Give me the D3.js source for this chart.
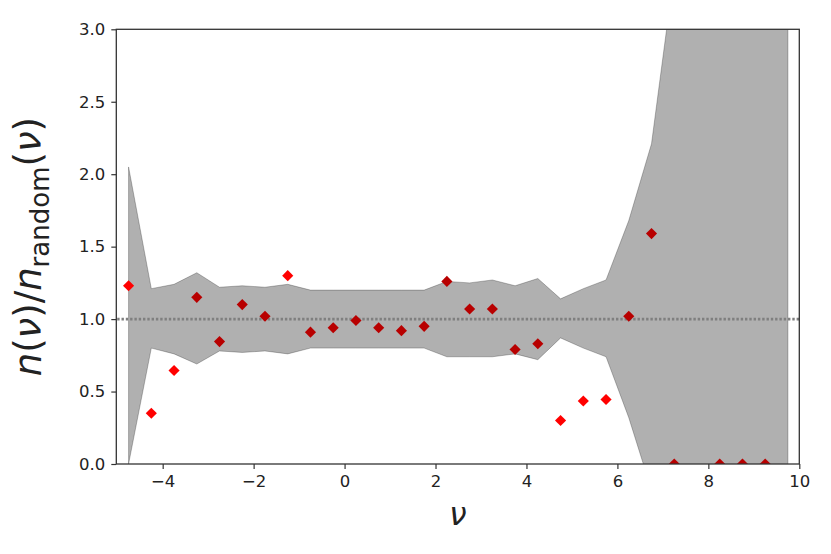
<!DOCTYPE html>
<html>
<head>
<meta charset="utf-8">
<script src="https://cdn.jsdelivr.net/npm/d3@7"></script>
<style>
  body { margin: 0; background: #fff; }
  text { font-family: "DejaVu Sans", sans-serif; fill: #222; }
</style>
</head>
<body>
<script>
// bin centres (nu), ratio values and the grey band around 1
var nuBins = [-4.75, -4.25, -3.75, -3.25, -2.75, -2.25, -1.75, -1.25, -0.75, -0.25,
              0.25, 0.75, 1.25, 1.75, 2.25, 2.75, 3.25, 3.75, 4.25, 4.75,
              5.25, 5.75, 6.25, 6.75, 7.25, 7.75, 8.25, 8.75, 9.25, 9.75];

var ratio = [1.23, 0.35, 0.645, 1.15, 0.845, 1.10, 1.02, 1.30, 0.91, 0.94,
             0.99, 0.94, 0.92, 0.95, 1.26, 1.07, 1.07, 0.79, 0.83, 0.30,
             0.435, 0.445, 1.02, 1.59, 0, null, 0, 0, 0, null];

// true = outside the expected band (bright red)
var outlier = [true, true, true, false, false, false, false, true, false, false,
               false, false, false, false, false, false, false, false, false, true,
               true, true, false, false, false, false, false, false, false, false];

var bandUpper = [2.05, 1.21, 1.24, 1.32, 1.22, 1.23, 1.22, 1.24, 1.20, 1.20,
                 1.20, 1.20, 1.20, 1.20, 1.26, 1.25, 1.27, 1.23, 1.28, 1.14,
                 1.21, 1.27, 1.68, 2.21, 3.4, 4.4, 5.0, 5.6, 6.2, 6.8];

var bandLower = [0, 0.80, 0.76, 0.69, 0.78, 0.77, 0.78, 0.76, 0.80, 0.80,
                 0.80, 0.80, 0.80, 0.80, 0.74, 0.74, 0.74, 0.76, 0.72, 0.87,
                 0.80, 0.74, 0.32, -0.18, -1.4, -2.4, -3.0, -3.6, -4.2, -4.8];

var xTicks = [-4, -2, 0, 2, 4, 6, 8, 10];
var yTicks = [0, 0.5, 1.0, 1.5, 2.0, 2.5, 3.0];

var w = 831, h = 554;
var padL = 116.3, padR = 799.3, padT = 29.3, padB = 464;

var svg = d3.select("body").append("svg")
    .attr("width", w)
    .attr("height", h);

var x = d3.scaleLinear().domain([-5.02, 10]).range([padL, padR]);
var y = d3.scaleLinear().domain([0, 3]).range([padB, padT]);

svg.append("clipPath").attr("id", "plot")
  .append("rect")
    .attr("x", padL).attr("y", padT)
    .attr("width", padR - padL).attr("height", padB - padT);

var plot = svg.append("g").attr("clip-path", "url(#plot)");

// grey band
var bandData = nuBins.map(function(d, i){
    return { nu: d, lo: bandLower[i], hi: bandUpper[i] };
});

var area = d3.area()
    .x(function(d){ return x(d.nu); })
    .y0(function(d){ return y(d.lo); })
    .y1(function(d){ return y(d.hi); });

plot.append("path")
    .datum(bandData)
    .attr("d", area)
    .style("fill", "#000")
    .style("fill-opacity", 0.31)
    .style("stroke", "#000")
    .style("stroke-opacity", 0.25)
    .style("stroke-width", 1);

// dotted reference line at 1
plot.append("line")
    .attr("x1", x(-5)).attr("x2", x(10))
    .attr("y1", y(1)).attr("y2", y(1))
    .style("stroke", "#7f7f7f")
    .style("stroke-width", 2.6)
    .style("stroke-dasharray", "2.4,1.9");

// square diamond marker
var squareDiamond = {
    draw: function(ctx, size){
        var r = Math.sqrt(size / 2);
        ctx.moveTo(0, -r);
        ctx.lineTo(r, 0);
        ctx.lineTo(0, r);
        ctx.lineTo(-r, 0);
        ctx.closePath();
    }
};

var pts = nuBins.map(function(d, i){
    return { nu: d, v: ratio[i], out: outlier[i] };
}).filter(function(d){ return d.v !== null; });

plot.selectAll(".pt")
    .data(pts)
    .enter()
    .append("path")
    .attr("class", "pt")
    .attr("d", d3.symbol().type(squareDiamond).size(62))
    .attr("transform", function(d){
        return "translate(" + x(d.nu) + "," + y(d.v) + ")";
    })
    .style("fill", function(d){ return d.out ? "#ff0000" : "#b80000"; });

// axes
var xAxis = d3.axisBottom(x).tickValues(xTicks).tickSize(5).tickPadding(6)
    .tickFormat(function(d){ return d < 0 ? "\u2212" + Math.abs(d) : d; });
var yAxis = d3.axisLeft(y).tickValues(yTicks).tickSize(5).tickPadding(6)
    .tickFormat(d3.format(".1f"));

var gx = svg.append("g")
    .attr("transform", "translate(0," + padB + ")")
    .call(xAxis);
var gy = svg.append("g")
    .attr("transform", "translate(" + padL + ",0)")
    .call(yAxis);

[gx, gy].forEach(function(g){
    g.select(".domain").remove();
    g.selectAll(".tick line").style("stroke", "#333").style("stroke-width", 1.2);
    g.selectAll(".tick text").style("font-size", "16.5px")
        .style("font-family", "DejaVu Sans").style("fill", "#222");
});

// frame
svg.append("rect")
    .attr("x", padL).attr("y", padT)
    .attr("width", padR - padL).attr("height", padB - padT)
    .style("fill", "none")
    .style("stroke", "#333")
    .style("stroke-width", 1.3);

// x label
svg.append("text")
    .attr("x", (padL + padR) / 2)
    .attr("y", 525)
    .attr("text-anchor", "middle")
    .style("font-size", "31px")
    .style("font-style", "italic")
    .text("\u03bd");

// y label  n(nu)/n_random(nu)
var ylab = svg.append("text")
    .attr("transform", "translate(41," + ((padT + padB) / 2) + ") rotate(-90)")
    .attr("text-anchor", "middle")
    .style("font-size", "37px");

ylab.append("tspan").style("font-style", "italic").text("n");
ylab.append("tspan").text("(");
ylab.append("tspan").style("font-style", "italic").text("\u03bd");
ylab.append("tspan").text(")/");
ylab.append("tspan").style("font-style", "italic").text("n");
ylab.append("tspan").attr("dy", 8).style("font-size", "26px").text("random");
ylab.append("tspan").attr("dy", -8).text("(");
ylab.append("tspan").style("font-style", "italic").text("\u03bd");
ylab.append("tspan").text(")");
</script>
</body>
</html>
